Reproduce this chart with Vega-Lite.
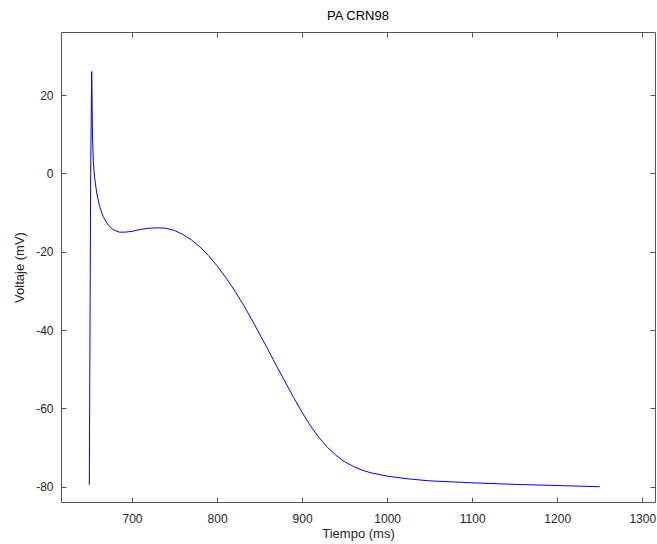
{
  "$schema": "https://vega.github.io/schema/vega-lite/v6.json",
  "width": 594,
  "height": 470,
  "autosize": "none",
  "padding": {"left": 61, "top": 32, "right": 2, "bottom": 42},
  "background": "white",
  "title": {"text": "PA CRN98", "font": "Liberation Sans", "fontSize": 13, "fontWeight": "normal", "color": "#000000", "anchor": "middle", "offset": 9},
  "config": {
    "view": {"stroke": "#555555", "strokeWidth": 1},
    "axis": {
      "labelFont": "Liberation Sans", "labelFontSize": 12, "labelColor": "#262626",
      "titleFont": "Liberation Sans", "titleFontSize": 13, "titleFontWeight": "normal", "titleColor": "#262626",
      "domain": false, "ticks": true, "tickColor": "#555555", "tickWidth": 1, "grid": false, "tickSize": 5, "offset": -5,
      "labelExpr": "'' + datum.value"
    }
  },
  "data": {"values": [
    {"t": 649.8, "v": -79.5},
    {"t": 651.4, "v": 0},
    {"t": 652.6, "v": 26},
    {"t": 653.0, "v": 20},
    {"t": 653.5, "v": 10},
    {"t": 654.5, "v": 3},
    {"t": 656, "v": -1},
    {"t": 658.5, "v": -5},
    {"t": 662, "v": -8.5},
    {"t": 666, "v": -11},
    {"t": 672, "v": -13.2},
    {"t": 678, "v": -14.4},
    {"t": 685, "v": -15},
    {"t": 692, "v": -15},
    {"t": 700, "v": -14.8},
    {"t": 710, "v": -14.3},
    {"t": 720, "v": -14},
    {"t": 730, "v": -13.9},
    {"t": 740, "v": -14},
    {"t": 750, "v": -14.6},
    {"t": 760, "v": -15.6},
    {"t": 770, "v": -17},
    {"t": 780, "v": -18.8},
    {"t": 790, "v": -21},
    {"t": 800, "v": -23.6},
    {"t": 810, "v": -26.5},
    {"t": 820, "v": -29.7},
    {"t": 830, "v": -33.2},
    {"t": 840, "v": -37},
    {"t": 850, "v": -41},
    {"t": 860, "v": -45},
    {"t": 870, "v": -49.2},
    {"t": 880, "v": -53.2},
    {"t": 890, "v": -57.2},
    {"t": 900, "v": -61},
    {"t": 910, "v": -64.5},
    {"t": 920, "v": -67.5},
    {"t": 930, "v": -70},
    {"t": 940, "v": -72},
    {"t": 950, "v": -73.6},
    {"t": 960, "v": -74.8},
    {"t": 970, "v": -75.7},
    {"t": 980, "v": -76.4},
    {"t": 1000, "v": -77.3},
    {"t": 1025, "v": -78},
    {"t": 1050, "v": -78.5},
    {"t": 1100, "v": -79},
    {"t": 1150, "v": -79.4},
    {"t": 1200, "v": -79.7},
    {"t": 1250, "v": -80}
  ]},
  "layer": [
    {
      "mark": {"type": "line", "color": "#0000ff", "strokeWidth": 1, "clip": true},
      "encoding": {
        "x": {"field": "t", "type": "quantitative", "scale": {"domain": [616.5, 1315], "nice": false, "zero": false},
              "axis": {"orient": "bottom", "title": "Tiempo (ms)", "values": [700, 800, 900, 1000, 1100, 1200, 1300], "labelPadding": 11, "titlePadding": 3}},
        "y": {"field": "v", "type": "quantitative", "scale": {"domain": [-83.9, 36.1], "nice": false, "zero": false},
              "axis": {"orient": "left", "title": "Voltaje (mV)", "values": [-80, -60, -40, -20, 0, 20], "labelPadding": 8, "titlePadding": 9}},
        "order": {"field": "t", "type": "quantitative"}
      }
    },
    {
      "mark": {"type": "line", "opacity": 0},
      "encoding": {
        "x": {"field": "t", "type": "quantitative", "axis": {"orient": "top", "title": null, "labels": false, "values": [700, 800, 900, 1000, 1100, 1200, 1300]}},
        "y": {"field": "v", "type": "quantitative", "axis": {"orient": "right", "title": null, "labels": false, "values": [-80, -60, -40, -20, 0, 20]}}
      }
    }
  ],
  "resolve": {"axis": {"x": "independent", "y": "independent"}}
}
